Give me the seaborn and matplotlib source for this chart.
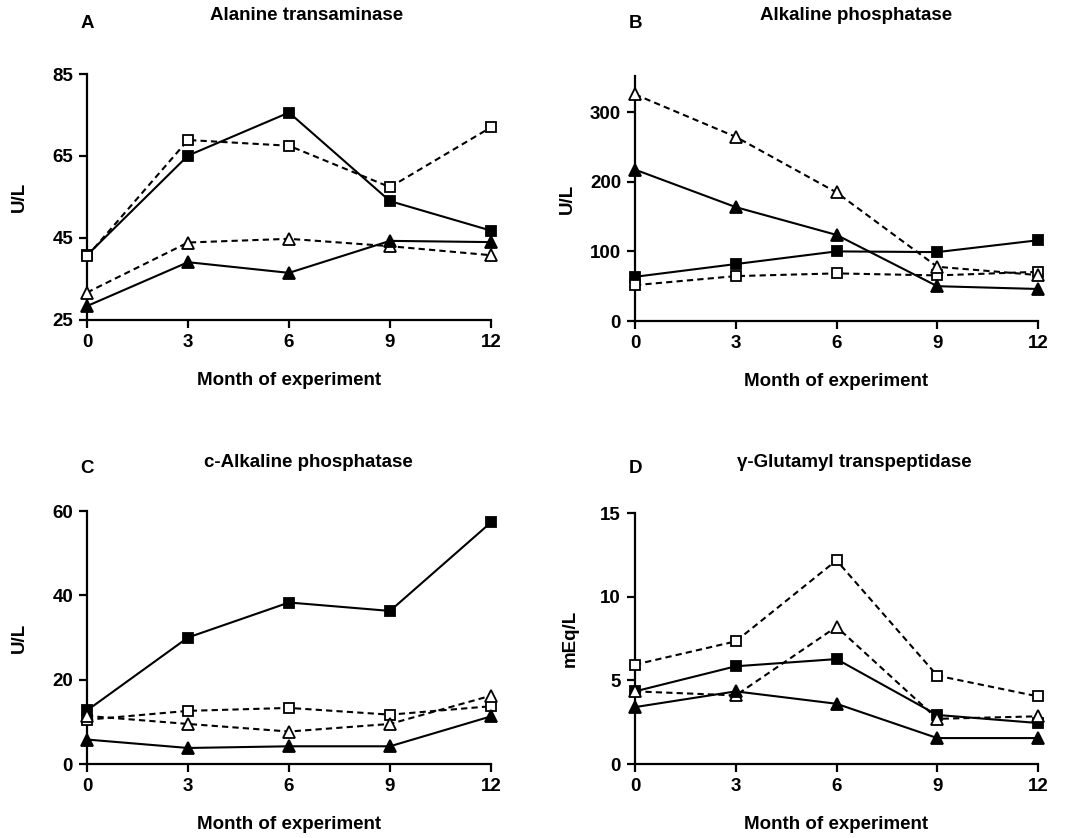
import matplotlib
matplotlib.use("Agg")
import matplotlib.pyplot as plt
import seaborn as sns
import pandas as pd

sns.set_style("ticks")
plt.rcParams['font.family'] = ['Liberation Sans', 'DejaVu Sans']
plt.rcParams['font.weight'] = 'bold'
for key in ['text.color', 'axes.labelcolor', 'xtick.color', 'ytick.color', 'axes.edgecolor']:
    plt.rcParams[key] = 'black'

months = [0, 3, 6, 9, 12]

# Panel A - Alanine transaminase (U/L)
alt_filled_sq = [40.8, 65.1, 75.6, 54.0, 46.8]
alt_open_sq = [40.5, 68.9, 67.5, 57.4, 72.0]
alt_open_tri = [31.7, 43.9, 44.8, 43.0, 40.8]
alt_filled_tri = [28.4, 39.1, 36.5, 44.3, 44.0]

# Panel B - Alkaline phosphatase (U/L)
alp_filled_sq = [63.5, 81.8, 100.0, 99.0, 116.0]
alp_open_sq = [51.5, 64.5, 68.4, 65.5, 70.7]
alp_open_tri = [325.6, 264.6, 184.7, 77.9, 66.0]
alp_filled_tri = [217.5, 163.6, 123.7, 50.0, 46.0]

# Panel C - c-Alkaline phosphatase (U/L)
calp_filled_sq = [12.7, 30.0, 38.3, 36.3, 57.3]
calp_open_sq = [10.5, 12.6, 13.3, 11.7, 13.7]
calp_open_tri = [11.4, 9.5, 7.7, 9.5, 16.2]
calp_filled_tri = [5.8, 3.8, 4.2, 4.2, 11.3]

# Panel D - gamma-Glutamyl transpeptidase (mEq/L)
ggt_filled_sq = [4.34, 5.84, 6.27, 2.93, 2.45]
ggt_open_sq = [5.94, 7.33, 12.17, 5.28, 4.04]
ggt_open_tri = [4.34, 4.1, 8.2, 2.7, 2.85]
ggt_filled_tri = [3.4, 4.34, 3.6, 1.55, 1.55]

W, H = 1071, 838

# rect in pixels: left, top, right, bottom; title/letter centres in pixels
panels = [
    dict(letter="A", title="Alanine transaminase", ylabel="U/L",
         series=[alt_filled_sq, alt_open_sq, alt_open_tri, alt_filled_tri],
         ylim=(25, 85), yticks=[25, 45, 65, 85],
         px=(87, 74, 491, 320), title_xy=(307, 16), letter_xy=(87, 24), ylab_x=19),
    dict(letter="B", title="Alkaline phosphatase", ylabel="U/L",
         series=[alp_filled_sq, alp_open_sq, alp_open_tri, alp_filled_tri],
         ylim=(0, 352), yticks=[0, 100, 200, 300],
         px=(635, 76, 1038, 321), title_xy=(856, 16), letter_xy=(636, 24), ylab_x=567),
    dict(letter="C", title="c-Alkaline phosphatase", ylabel="U/L",
         series=[calp_filled_sq, calp_open_sq, calp_open_tri, calp_filled_tri],
         ylim=(0, 60), yticks=[0, 20, 40, 60],
         px=(87, 511, 491, 764), title_xy=(308, 462), letter_xy=(87, 468), ylab_x=19),
    dict(letter="D", title="\u03b3-Glutamyl transpeptidase", ylabel="mEq/L",
         series=[ggt_filled_sq, ggt_open_sq, ggt_open_tri, ggt_filled_tri],
         ylim=(0, 15), yticks=[0, 5, 10, 15],
         px=(635, 513, 1038, 764), title_xy=(854, 462), letter_xy=(635, 468), ylab_x=570),
]

styles = [
    dict(marker='s', markerfacecolor='black', linestyle='-', markersize=7),
    dict(marker='s', markerfacecolor='white', linestyle=(0, (3, 2)), markersize=7),
    dict(marker='^', markerfacecolor='white', linestyle=(0, (3, 2)), markersize=9),
    dict(marker='^', markerfacecolor='black', linestyle='-', markersize=9),
]

fig = plt.figure(figsize=(W / 100, H / 100), dpi=100)

for p in panels:
    l, t, r, b = p["px"]
    ax = fig.add_axes([l / W, 1 - b / H, (r - l) / W, (b - t) / H])
    for vals, st in zip(p["series"], styles):
        df = pd.DataFrame({"month": months, "value": vals})
        sns.lineplot(data=df, x="month", y="value", ax=ax, color='black',
                     linewidth=1.5, markeredgecolor='black', markeredgewidth=1.3,
                     clip_on=False, zorder=3, **st)
    ax.set_xlim(0, 12)
    ax.set_ylim(*p["ylim"])
    ax.set_xticks(months)
    ax.set_yticks(p["yticks"])
    sns.despine(ax=ax)
    for s in ["left", "bottom"]:
        ax.spines[s].set_linewidth(1.6)
        ax.spines[s].set_color('black')
    ax.tick_params(direction='out', length=6, width=1.6, labelsize=13.5, pad=4,
                   colors='black')
    for lab in ax.get_xticklabels() + ax.get_yticklabels():
        lab.set_fontweight('bold')
    ax.set_xlabel("Month of experiment", fontsize=13.5, fontweight='bold', va='center')
    ax.set_ylabel(p["ylabel"], fontsize=13.5, fontweight='bold', va='center')
    ax.xaxis.set_label_coords((l + r) / 2 / W, 1 - (b + 60) / H, transform=fig.transFigure)
    ax.yaxis.set_label_coords(p["ylab_x"] / W, 1 - (t + b) / 2 / H, transform=fig.transFigure)
    tx, ty = p["title_xy"]
    fig.text(tx / W, 1 - ty / H, p["title"], ha='center', va='center',
             fontsize=13.5, fontweight='bold')
    lx, ly = p["letter_xy"]
    fig.text(lx / W, 1 - ly / H, p["letter"], ha='center', va='center',
             fontsize=13.5, fontweight='bold')

fig.savefig("out.png", dpi=100)
